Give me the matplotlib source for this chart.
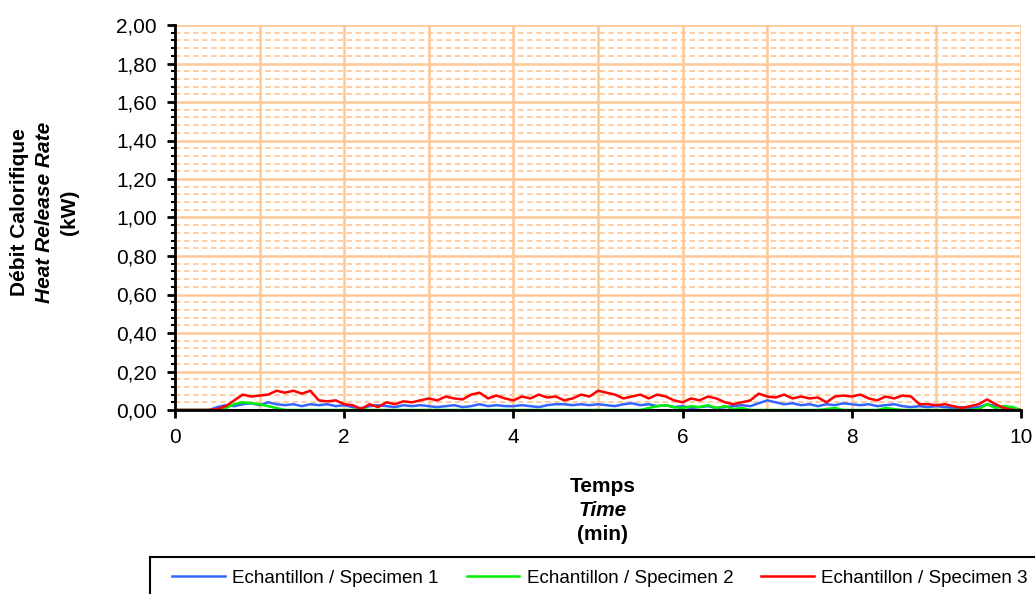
import matplotlib
matplotlib.use("Agg")
import matplotlib.pyplot as plt
from matplotlib.patches import Rectangle
from matplotlib.ticker import MultipleLocator, FuncFormatter

FONT = "Liberation Sans"
plt.rcParams["font.family"] = [FONT, "DejaVu Sans"]

GRID = "#FFC896"
BLUE = "#3366FF"
GREEN = "#00EE00"
RED = "#FF0000"

# time in minutes, sampled every 0.1 min
time_min = [round(i * 0.1, 1) for i in range(101)]

specimen_1 = [
    0.000, 0.000, 0.000, 0.000, 0.000, 0.015, 0.025, 0.020, 0.030, 0.035,
    0.025, 0.040, 0.030, 0.025, 0.030, 0.020, 0.030, 0.025, 0.030, 0.020,
    0.025, 0.015, 0.010, 0.020, 0.025, 0.020, 0.015, 0.025, 0.020, 0.025,
    0.020, 0.015, 0.020, 0.025, 0.015, 0.020, 0.030, 0.020, 0.025, 0.020,
    0.020, 0.025, 0.020, 0.015, 0.025, 0.030, 0.030, 0.025, 0.030, 0.025,
    0.030, 0.025, 0.020, 0.030, 0.035, 0.025, 0.030, 0.020, 0.025, 0.015,
    0.020, 0.010, 0.015, 0.020, 0.010, 0.015, 0.020, 0.025, 0.020, 0.035,
    0.050, 0.040, 0.030, 0.035, 0.025, 0.030, 0.020, 0.030, 0.025, 0.035,
    0.030, 0.025, 0.030, 0.020, 0.025, 0.030, 0.020, 0.015, 0.020, 0.015,
    0.020, 0.015, 0.010, 0.015, 0.010, 0.015, 0.030, 0.020, 0.010, 0.005,
    0.000,
]

specimen_2 = [
    0.000, 0.000, 0.000, 0.000, 0.000, 0.000, 0.010, 0.030, 0.040, 0.035,
    0.030, 0.020, 0.010, 0.000, 0.000, 0.000, 0.000, 0.000, 0.000, 0.000,
    0.000, 0.000, 0.005, 0.000, 0.000, 0.000, 0.000, 0.000, 0.000, 0.000,
    0.000, 0.000, 0.000, 0.000, 0.000, 0.000, 0.000, 0.000, 0.000, 0.000,
    0.000, 0.000, 0.000, 0.000, 0.000, 0.000, 0.000, 0.000, 0.000, 0.000,
    0.000, 0.000, 0.000, 0.000, 0.000, 0.000, 0.010, 0.020, 0.025, 0.015,
    0.010, 0.020, 0.015, 0.025, 0.010, 0.020, 0.005, 0.010, 0.000, 0.000,
    0.000, 0.000, 0.000, 0.000, 0.000, 0.000, 0.000, 0.005, 0.010, 0.000,
    0.000, 0.000, 0.000, 0.000, 0.010, 0.005, 0.000, 0.000, 0.000, 0.000,
    0.000, 0.000, 0.000, 0.000, 0.000, 0.005, 0.030, 0.010, 0.020, 0.015,
    0.000,
]

specimen_3 = [
    0.000, 0.000, 0.000, 0.000, 0.000, 0.005, 0.020, 0.050, 0.080, 0.070,
    0.075, 0.080, 0.100, 0.090, 0.100, 0.085, 0.100, 0.050, 0.045, 0.050,
    0.030, 0.025, 0.005, 0.030, 0.015, 0.040, 0.030, 0.045, 0.040, 0.050,
    0.060, 0.050, 0.070, 0.060, 0.055, 0.080, 0.090, 0.060, 0.075, 0.060,
    0.050, 0.070, 0.060, 0.080, 0.065, 0.070, 0.050, 0.060, 0.080, 0.070,
    0.100, 0.090, 0.080, 0.060, 0.070, 0.080, 0.060, 0.080, 0.070, 0.050,
    0.040, 0.060, 0.050, 0.070, 0.060, 0.040, 0.030, 0.040, 0.050, 0.085,
    0.070, 0.065, 0.080, 0.060, 0.070, 0.060, 0.065, 0.040, 0.070, 0.075,
    0.070, 0.080, 0.060, 0.050, 0.070, 0.060, 0.075, 0.070, 0.030, 0.030,
    0.025, 0.030, 0.020, 0.010, 0.020, 0.030, 0.055, 0.030, 0.010, 0.000,
    0.000,
]

baseline = [0.0] * len(time_min)

LABELS = ["Echantillon / Specimen 1", "Echantillon / Specimen 2",
          "Echantillon / Specimen 3"]

fig = plt.figure(figsize=(10.35, 5.94), dpi=100, facecolor="white")
ax = fig.add_axes([175 / 1035, 1 - 410 / 594, (1021 - 175) / 1035, 385 / 594])

ax.set_xlim(0, 10)
ax.set_ylim(0, 2.0)
ax.xaxis.set_major_locator(MultipleLocator(2))
ax.xaxis.set_minor_locator(MultipleLocator(1))
ax.yaxis.set_major_locator(MultipleLocator(0.2))
ax.yaxis.set_minor_locator(MultipleLocator(0.04))
ax.yaxis.set_major_formatter(FuncFormatter(lambda v, p: f"{v:.2f}".replace(".", ",")))

ax.grid(which="major", axis="both", color=GRID, lw=1.8, zorder=0)
ax.grid(which="minor", axis="x", color=GRID, lw=1.8, zorder=0)
ax.grid(which="minor", axis="y", color=GRID, lw=1.3, ls=(0, (3, 2)), zorder=0)
ax.set_axisbelow(True)

for s in ("top", "right"):
    ax.spines[s].set_visible(False)
for s in ("left", "bottom"):
    ax.spines[s].set_linewidth(2)
    ax.spines[s].set_zorder(5)

ax.tick_params(axis="both", which="major", direction="out", length=6, width=2,
               labelsize=15, pad=7)
ax.tick_params(axis="x", which="minor", length=0)
ax.tick_params(axis="y", which="minor", direction="out", length=3, width=1.5)
for lbl in ax.get_xticklabels() + ax.get_yticklabels():
    lbl.set_fontfamily(FONT)

ax.plot(time_min, baseline, color="black", lw=2.2, zorder=2)
ax.plot(time_min, specimen_1, color=BLUE, lw=1.8, zorder=3, label=LABELS[0])
ax.plot(time_min, specimen_2, color=GREEN, lw=1.8, zorder=4, label=LABELS[1])
ax.plot(time_min, specimen_3, color=RED, lw=1.8, zorder=5, label=LABELS[2])

# y-axis title, three lines
ylines = [("Débit Calorifique", "normal", 20), ("Heat Release Rate", "italic", 45),
          ("(kW)", "normal", 70)]
for txt, style, xp in ylines:
    fig.text(xp / 1035, 1 - 212 / 594, txt, rotation=90, ha="center", va="center",
             fontsize=15, fontweight="bold", fontstyle=style)

# x-axis title
xlines = [("Temps", "normal", 487), ("Time", "italic", 511), ("(min)", "normal", 535)]
for txt, style, yp in xlines:
    fig.text(603 / 1035, 1 - yp / 594, txt, ha="center", va="center",
             fontsize=15, fontweight="bold", fontstyle=style)

# legend box running off the right edge
fig.patches.append(Rectangle((150 / 1035, -0.05), 1.0, 0.05 + (594 - 557) / 594,
                             transform=fig.transFigure, fill=False,
                             edgecolor="black", lw=1.5, clip_on=False))
handles, labels = ax.get_legend_handles_labels()
fig.legend(handles, labels, loc="center left",
           bbox_to_anchor=(172 / 1035, 1 - 578 / 594), ncol=3, frameon=False,
           borderpad=0, borderaxespad=0, fontsize=13.5, handlelength=2.8,
           handletextpad=0.4, columnspacing=1.5)

fig.savefig("out.png", dpi=100, facecolor="white")
